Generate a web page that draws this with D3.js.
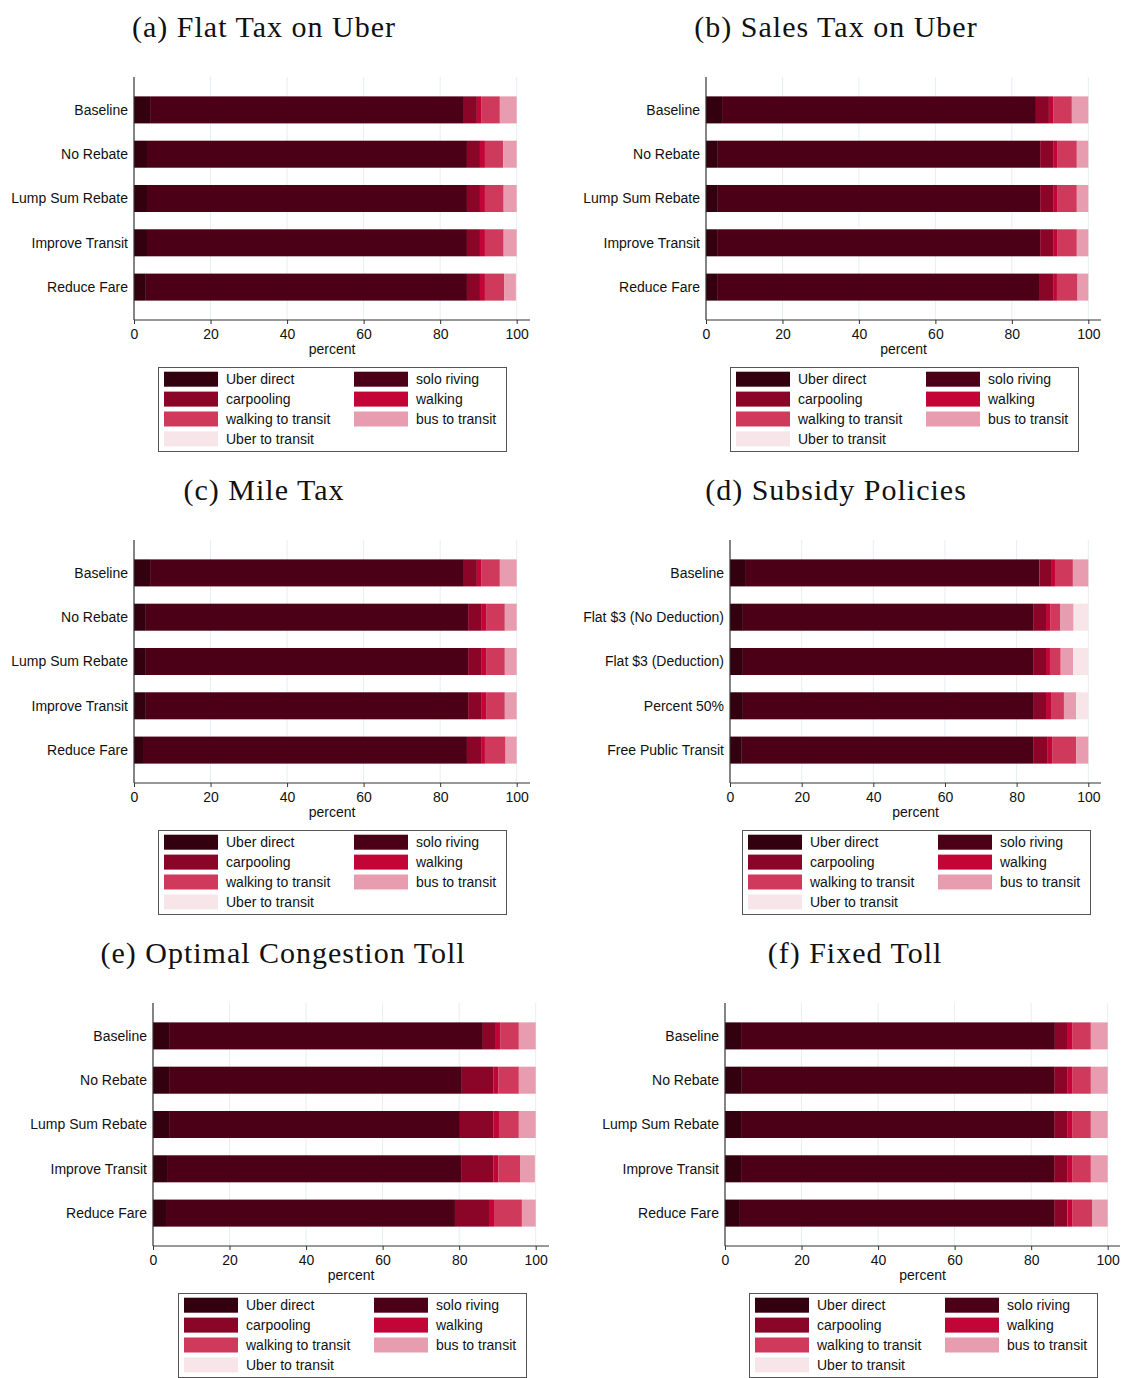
<!DOCTYPE html>
<html><head><meta charset="utf-8">
<script src="https://cdn.jsdelivr.net/npm/d3@7"></script>
<style>
body{margin:0;background:#fff;}
svg{display:block;}
</style></head>
<body>
<svg id="chart" width="1122" height="1378"></svg>
<script>
const modes = ["Uber direct","solo riving","carpooling","walking","walking to transit","bus to transit","Uber to transit"];
const policyCats = ["Baseline","No Rebate","Lump Sum Rebate","Improve Transit","Reduce Fare"];
const subsidyCats = ["Baseline","Flat $3 (No Deduction)","Flat $3 (Deduction)","Percent 50%","Free Public Transit"];
const tickValues = [0,20,40,60,80,100];
const panelTitles = ["(a) Flat Tax on Uber","(b) Sales Tax on Uber","(c) Mile Tax","(d) Subsidy Policies","(e) Optimal Congestion Toll","(f) Fixed Toll"];

const flatTaxShares = [
  [4.2, 82.0, 3.4, 1.1, 4.9, 4.4, 0],
  [3.4, 83.6, 3.4, 1.3, 4.8, 3.5, 0],
  [3.4, 83.6, 3.4, 1.3, 4.9, 3.4, 0],
  [3.4, 83.6, 3.4, 1.3, 4.9, 3.4, 0],
  [3.1, 83.9, 3.4, 1.3, 5.0, 3.1, 0.2]
];
const salesTaxShares = [
  [4.2, 82.1, 3.4, 1.1, 4.9, 4.3, 0],
  [3.1, 84.3, 3.4, 1.2, 5.0, 3.0, 0],
  [3.1, 84.3, 3.4, 1.2, 5.0, 3.0, 0],
  [2.9, 84.5, 3.4, 1.2, 5.0, 3.0, 0],
  [2.9, 84.2, 3.7, 1.0, 5.4, 2.8, 0]
];
const mileTaxShares = [
  [4.2, 82.0, 3.4, 1.1, 4.9, 4.4, 0],
  [3.1, 84.2, 3.4, 1.3, 4.9, 3.1, 0],
  [3.1, 84.2, 3.4, 1.3, 4.9, 3.1, 0],
  [3.1, 84.2, 3.4, 1.3, 4.9, 3.1, 0],
  [2.6, 84.4, 3.7, 1.0, 5.4, 2.9, 0]
];
const subsidyShares = [
  [4.2, 82.2, 3.2, 1.1, 5.0, 4.3, 0],
  [3.6, 81.0, 3.6, 1.3, 2.6, 3.8, 4.1],
  [3.6, 81.0, 3.6, 1.1, 3.0, 3.5, 4.2],
  [3.6, 81.2, 3.4, 1.4, 3.6, 3.4, 3.4],
  [3.3, 81.3, 4.1, 1.2, 6.7, 3.4, 0]
];
const optimalTollShares = [
  [4.2, 82.0, 3.4, 1.1, 4.9, 4.4, 0],
  [4.2, 76.5, 8.2, 1.3, 5.4, 4.4, 0],
  [4.2, 76.0, 8.7, 1.5, 5.2, 4.4, 0],
  [3.9, 76.6, 8.4, 1.4, 5.6, 3.9, 0.2],
  [3.4, 75.5, 8.9, 1.3, 7.3, 3.6, 0]
];
const fixedTollShares = [
  [4.2, 82.0, 3.4, 1.1, 4.9, 4.4, 0],
  [4.4, 81.6, 3.4, 1.3, 4.9, 4.4, 0],
  [4.2, 81.8, 3.4, 1.3, 4.9, 4.4, 0],
  [4.2, 81.8, 3.4, 1.3, 4.9, 4.4, 0],
  [3.9, 82.1, 3.5, 1.2, 5.2, 4.1, 0]
];

// styles (not data)
const modeColors = ["#32000f","#4c0018","#8a0528","#c20436","#cf3a5c","#e89caf","#f8e5ea"];

const layouts = [
  {title:panelTitles[0], cats:policyCats, data:flatTaxShares, x0:134, x100:516.7, xEnd:530, dy:0, tx:264, lx:158},
  {title:panelTitles[1], cats:policyCats, data:salesTaxShares, x0:706, x100:1088.3, xEnd:1101, dy:0, tx:836, lx:730},
  {title:panelTitles[2], cats:policyCats, data:mileTaxShares, x0:134, x100:516.7, xEnd:530, dy:463, tx:264, lx:158},
  {title:panelTitles[3], cats:subsidyCats, data:subsidyShares, x0:730, x100:1088.3, xEnd:1101, dy:463, tx:836, lx:742},
  {title:panelTitles[4], cats:policyCats, data:optimalTollShares, x0:153, x100:535.7, xEnd:549, dy:926, tx:283, lx:178},
  {title:panelTitles[5], cats:policyCats, data:fixedTollShares, x0:725, x100:1107.7, xEnd:1120, dy:926, tx:855, lx:749}
];

const svg = d3.select("#chart");
const sans = "'Liberation Sans', Arial, Helvetica, sans-serif";

layouts.forEach(p => {
  const g = svg.append("g").attr("transform", `translate(0,${p.dy})`);
  const yTop = 77, yBot = 320;

  // title
  g.append("text").attr("x", p.tx).attr("y", 37).attr("text-anchor","middle")
    .style("font-family","'Liberation Serif','Times New Roman',serif").style("font-size","30px")
    .style("letter-spacing","1px")
    .attr("fill","#111").text(p.title);

  const x = d3.scaleLinear().domain([0,100]).range([p.x0, p.x100]);
  const y = d3.scaleBand().domain(p.cats).range([yTop, yBot]).paddingInner(0.39).paddingOuter(0.4375);

  // gridlines
  g.append("g").selectAll("line").data(tickValues.filter(v => v > 0)).join("line")
    .attr("x1", d => x(d)).attr("x2", d => x(d)).attr("y1", yTop).attr("y2", yBot)
    .attr("stroke","#e6eff1").attr("stroke-width",1);

  // stacked bars
  const rows = p.cats.map((c,i) => {
    const o = {cat:c};
    modes.forEach((m,j) => o[m] = p.data[i][j]);
    return o;
  });
  const series = d3.stack().keys(modes)(rows);
  g.append("g").selectAll("g").data(series).join("g")
    .attr("fill", (d,i) => modeColors[i])
    .selectAll("rect").data(d => d).join("rect")
    .attr("x", d => x(d[0]))
    .attr("width", d => Math.max(0, x(d[1]) - x(d[0])))
    .attr("y", d => y(d.data.cat))
    .attr("height", y.bandwidth());

  // x axis
  const ax = g.append("g").attr("transform", `translate(0,${yBot})`)
    .call(d3.axisBottom(x).tickValues(tickValues).tickSize(4).tickSizeOuter(0).tickPadding(5));
  ax.select(".domain").remove();
  ax.append("line").attr("x1", p.x0).attr("x2", p.xEnd).attr("y1",0).attr("y2",0)
    .attr("stroke","#333").attr("stroke-width",1.2);
  ax.selectAll(".tick line").attr("stroke","#333");
  ax.selectAll(".tick text").style("font-family", sans).style("font-size","14px").attr("fill","#111");

  g.append("text").attr("x",(p.x0+p.xEnd)/2).attr("y",354).attr("text-anchor","middle")
    .style("font-family",sans).style("font-size","14px").attr("fill","#111").text("percent");

  // y axis
  g.append("line").attr("x1",p.x0).attr("x2",p.x0).attr("y1",yTop).attr("y2",yBot)
    .attr("stroke","#333").attr("stroke-width",1.2);
  g.append("g").selectAll("text").data(p.cats).join("text")
    .attr("x", p.x0 - 6).attr("y", d => y(d) + y.bandwidth()/2).attr("dy","0.35em")
    .attr("text-anchor","end").style("font-family",sans).style("font-size","14px").attr("fill","#111")
    .text(d => d);

  // legend
  const lg = g.append("g").attr("transform", `translate(${p.lx},367)`);
  lg.append("rect").attr("x",0.5).attr("y",0.5).attr("width",348).attr("height",84)
    .attr("fill","#fff").attr("stroke","#555").attr("stroke-width",1);
  const items = lg.selectAll("g.item").data(modes).join("g").attr("class","item")
    .attr("transform",(d,i) => `translate(${i%2===0 ? 6 : 196},${12.2 + Math.floor(i/2)*19.9})`);
  items.append("rect").attr("x",0).attr("y",-7.5).attr("width",54).attr("height",15)
    .attr("fill",(d,i) => modeColors[i]);
  items.append("text").attr("x",62).attr("y",0).attr("dy","0.35em")
    .style("font-family",sans).style("font-size","14px").attr("fill","#111").text(d => d);
});
</script>
</body></html>
